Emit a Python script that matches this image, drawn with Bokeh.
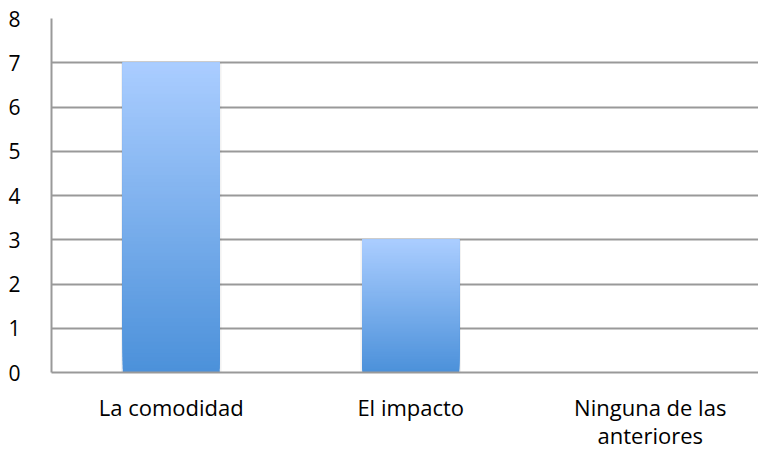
from bokeh.plotting import figure
from bokeh.models import FixedTicker, ColumnDataSource, LinearAxis, Range1d
from bokeh.embed import file_html
from bokeh.resources import INLINE

categories = ["La comodidad", "El impacto", "Ninguna de las anteriores"]
values = [7, 3, 0]
label_line1 = ["La comodidad", "El impacto", "Ninguna de las"]
label_line2 = ["", "", "anteriores"]
y_ticks = [0, 1, 2, 3, 4, 5, 6, 7, 8]

# each category occupies one unit on the x scale, centred at index + 0.5
x_pos = [i + 0.5 for i in range(len(categories))]

top_rgb = (170, 205, 255)
bottom_rgb = (76, 145, 218)
N = 80

xs, tops, bottoms, colors = [], [], [], []
for xp, v in zip(x_pos, values):
    if v <= 0:
        continue
    for i in range(N):
        f = i / (N - 1)
        r = round(bottom_rgb[0] + (top_rgb[0] - bottom_rgb[0]) * f)
        g = round(bottom_rgb[1] + (top_rgb[1] - bottom_rgb[1]) * f)
        b = round(bottom_rgb[2] + (top_rgb[2] - bottom_rgb[2]) * f)
        xs.append(xp)
        bottoms.append(v * i / N)
        tops.append(v)
        colors.append("#%02x%02x%02x" % (r, g, b))

src = ColumnDataSource(dict(x=xs, top=tops, bottom=bottoms, color=colors))
shadow = ColumnDataSource(dict(x=[xp for xp, v in zip(x_pos, values) if v > 0],
                               top=[v for v in values if v > 0]))

p = figure(x_range=Range1d(0, 2.952), y_range=Range1d(0, 8), width=758, height=452,
           output_backend="svg", toolbar_location=None, x_axis_type=None,
           min_border_left=51, min_border_top=18, min_border_bottom=80, min_border_right=0)

p.vbar(x="x", top="top", bottom=0, width=0.42, source=shadow,
       fill_color="#000000", fill_alpha=0.05, line_color=None)
p.vbar(x="x", top="top", bottom="bottom", width=0.405, source=src,
       fill_color="color", line_color=None)

p.outline_line_color = None
p.background_fill_color = "white"
p.border_fill_color = "white"

xticker = FixedTicker(ticks=x_pos)
ax1 = LinearAxis(ticker=xticker,
                 major_label_overrides={xp: t for xp, t in zip(x_pos, label_line1)})
ax2 = LinearAxis(ticker=xticker,
                 major_label_overrides={xp: t for xp, t in zip(x_pos, label_line2)})
p.add_layout(ax1, "below")
p.add_layout(ax2, "below")

p.xgrid.grid_line_color = None
p.ygrid.grid_line_color = "#999999"
p.ygrid.grid_line_width = 2
p.yaxis.ticker = FixedTicker(ticks=y_ticks)
p.ygrid.ticker = FixedTicker(ticks=y_ticks)

for ax in (ax1, ax2, p.yaxis[0]):
    ax.axis_line_color = "#999999"
    ax.axis_line_width = 2
    ax.major_tick_line_color = None
    ax.minor_tick_line_color = None
    ax.major_label_text_font = "Open Sans"
    ax.major_label_text_color = "#000000"

ax2.axis_line_color = None
p.yaxis.major_label_text_font_size = "21px"
p.yaxis.major_label_standoff = 25
ax1.major_label_text_font_size = "22px"
ax2.major_label_text_font_size = "22px"
ax1.major_label_standoff = 13
ax2.major_label_standoff = -11

open("out.html", "w").write(file_html(p, INLINE))
